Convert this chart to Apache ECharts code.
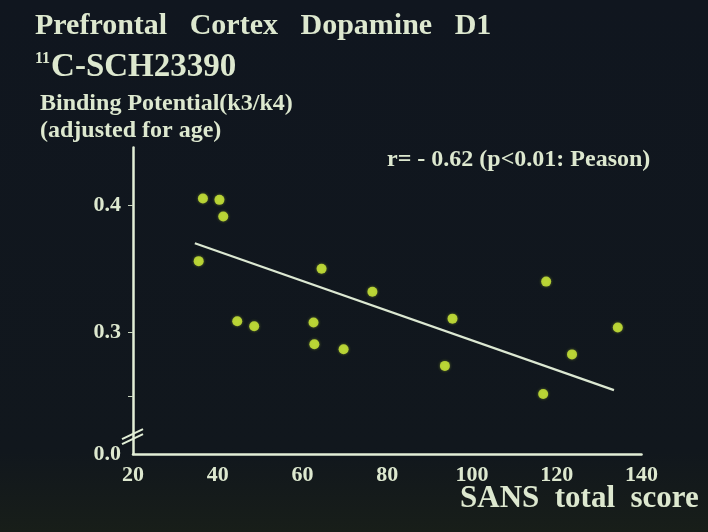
<!DOCTYPE html>
<html>
<head>
<meta charset="utf-8">
<script src="https://cdn.jsdelivr.net/npm/echarts@6/dist/echarts.min.js"></script>
<style>
html, body { margin: 0; padding: 0; background: #10161f; }
#main { width: 708px; height: 532px; }
</style>
</head>
<body>
<div id="main"></div>
<script>
// SANS total score vs D1 binding potential (one point per patient)
var sansScore = [36.5, 40.4, 41.3, 35.5, 64.5, 44.6, 48.6, 62.6, 62.8, 69.7, 76.5, 117.5, 95.4, 134.4, 123.6, 93.6, 116.8];
var bindingPotential = [0.405, 0.404, 0.391, 0.356, 0.350, 0.309, 0.305, 0.308, 0.291, 0.287, 0.332, 0.340, 0.311, 0.304, 0.283, 0.274, 0.252];
// regression line end points
var fitX = [34.6, 133.5];
var fitY = [0.370, 0.255];
// axis ticks (y axis is broken: bottom of the axis stands for 0.0)
var xTicks = [20, 40, 60, 80, 100, 120, 140];
var yTickValues = [0.205, 0.3, 0.4];
var yTickLabels = ["0.0", "0.3", "0.4"];
var yMinorTicks = [0.25, 0.3, 0.4];

var textColor = "#dde8cf";
var serif = "Liberation Serif";

var chart = echarts.init(document.getElementById("main"));

var option = {
  backgroundColor: {
    type: "linear", x: 0, y: 0, x2: 0, y2: 1,
    colorStops: [
      { offset: 0, color: "#10161f" },
      { offset: 0.85, color: "#11171d" },
      { offset: 1, color: "#181e19" }
    ]
  },
  animation: false,
  title: [
    {
      text: "Prefrontal   Cortex   Dopamine   D1",
      left: 30, top: 6,
      textStyle: { color: textColor, fontFamily: serif, fontWeight: "bold", fontSize: 30 }
    },
    {
      text: "{sup|11}{main|C-SCH23390}",
      left: 30, top: 46,
      textStyle: {
        rich: {
          sup: { color: textColor, fontFamily: serif, fontWeight: "bold", fontSize: 16, verticalAlign: "top", padding: [0, 1, 14, 0] },
          main: { color: textColor, fontFamily: serif, fontWeight: "bold", fontSize: 33 }
        }
      }
    },
    {
      text: "Binding Potential(k3/k4)\n(adjusted for age)",
      left: 35, top: 85,
      textStyle: { color: textColor, fontFamily: serif, fontWeight: "bold", fontSize: 24, lineHeight: 27 }
    },
    {
      text: "r= - 0.62 (p<0.01: Peason)",
      left: 382, top: 143,
      textStyle: { color: textColor, fontFamily: serif, fontWeight: "bold", fontSize: 24 }
    },
    {
      text: "SANS  total  score",
      left: 455, top: 478,
      textStyle: { color: textColor, fontFamily: serif, fontWeight: "bold", fontSize: 31 }
    }
  ],
  grid: { left: 133, right: 66.5, top: 147.5, bottom: 78 },
  xAxis: {
    type: "value",
    min: 20, max: 140, interval: 20,
    splitLine: { show: false },
    axisTick: { show: false },
    axisLine: { onZero: false, lineStyle: { color: "#e2eed6", width: 2.5 } },
    axisLabel: {
      customValues: xTicks,
      margin: 10,
      color: textColor, fontFamily: serif, fontWeight: "bold", fontSize: 22
    }
  },
  yAxis: {
    type: "value",
    min: 0.205, max: 0.445,
    splitLine: { show: false },
    axisLine: { show: true, onZero: false, lineStyle: { color: "#e2eed6", width: 2.5 } },
    axisTick: { show: true, customValues: yMinorTicks, length: 5, lineStyle: { color: "#c8d4bd", width: 1 } },
    axisLabel: {
      customValues: yTickValues,
      margin: 12,
      color: textColor, fontFamily: serif, fontWeight: "bold", fontSize: 22,
      formatter: function (v) {
        for (var i = 0; i < yTickValues.length; i++) {
          if (Math.abs(v - yTickValues[i]) < 1e-6) return yTickLabels[i];
        }
        return "";
      }
    }
  },
  series: [
    {
      type: "line",
      data: fitX.map(function (x, i) { return [x, fitY[i]]; }),
      symbol: "none",
      lineStyle: { color: "#dce8d2", width: 2.2 },
      z: 2
    },
    {
      type: "scatter",
      data: sansScore.map(function (x, i) { return [x, bindingPotential[i]]; }),
      symbolSize: 10,
      itemStyle: { color: "#d2f03a", shadowBlur: 3, shadowColor: "rgba(210,240,58,0.5)" },
      z: 3
    }
  ]
};

chart.setOption(option);

// the "//" break marks on the y axis
var p = chart.convertToPixel({ gridIndex: 0 }, [20, 0.219]);
chart.setOption({
  graphic: [
    { type: "line", shape: { x1: p[0] - 11, y1: p[1] + 3, x2: p[0] + 10, y2: p[1] - 7 }, style: { stroke: "#e2eed6", lineWidth: 2 } },
    { type: "line", shape: { x1: p[0] - 11, y1: p[1] + 8, x2: p[0] + 10, y2: p[1] - 2 }, style: { stroke: "#e2eed6", lineWidth: 2 } }
  ]
});
</script>
</body>
</html>
